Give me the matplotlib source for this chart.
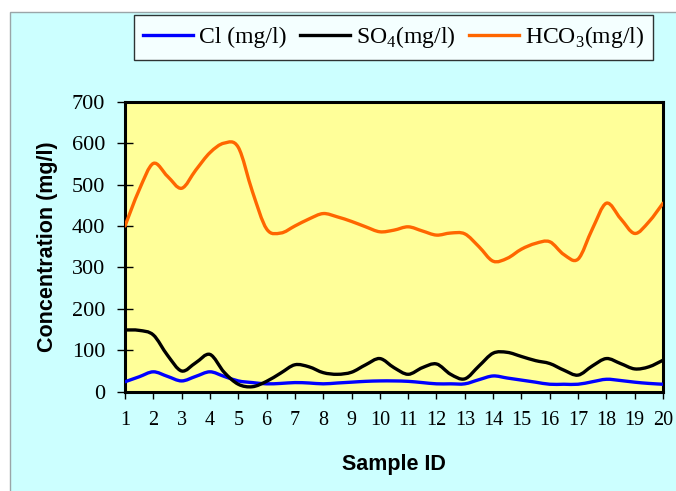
import numpy as np
import matplotlib.pyplot as plt
from matplotlib.path import Path
from matplotlib.patches import PathPatch, Rectangle
from matplotlib.lines import Line2D

plt.rcParams['mathtext.fontset'] = 'custom'
plt.rcParams['mathtext.rm'] = 'Liberation Serif'

# readings every half sample
sample_id = np.arange(1, 20.5, 0.5)
cl = [24, 36, 48, 37, 26, 37, 48, 37, 26, 22, 19, 20, 22, 21, 19, 21, 23, 25, 26, 26,
      25, 22, 19, 19, 19, 29, 38, 33, 28, 23, 18, 18, 18, 24, 30, 27, 23, 20, 18]
so4 = [149, 148, 137, 88, 50, 70, 90, 47, 18, 12, 25, 45, 65, 60, 46, 42, 47, 65, 80, 58,
       42, 58, 67, 42, 31, 62, 93, 95, 85, 75, 68, 52, 40, 62, 80, 68, 55, 60, 76]
hco3 = [400, 487, 551, 520, 491, 535, 577, 600, 590, 483, 393, 383, 400, 417, 430, 422, 411, 398, 386, 390,
        398, 388, 378, 383, 381, 350, 315, 322, 344, 358, 362, 331, 320, 392, 455, 418, 382, 410, 455]

names = ['Cl (mg/l)', r'SO$_{\mathrm{4}}$(mg/l)', r'HCO$_{\mathrm{3}}$(mg/l)']
colors = ['#0000ff', '#000000', '#ff6600']
xticks = list(range(1, 21))
yticks = list(range(0, 701, 100))


def smooth_path(x, y):
    # catmull-rom style bezier through every point, like a spreadsheet "smoothed line"
    p = np.column_stack([x, y]).astype(float)
    p = np.vstack([p[0], p, p[-1]])
    verts = [p[1]]
    codes = [Path.MOVETO]
    for i in range(1, len(p) - 2):
        c1 = p[i] + (p[i + 1] - p[i - 1]) / 6.0
        c2 = p[i + 1] - (p[i + 2] - p[i]) / 6.0
        verts += [c1, c2, p[i + 1]]
        codes += [Path.CURVE4] * 3
    return Path(verts, codes)


fig = plt.figure(figsize=(6.76, 4.91), dpi=100)
fig.patch.set_facecolor('white')
fig.add_artist(Rectangle((10 / 676, -0.01), 1.0, (491 - 12) / 491 + 0.01, transform=fig.transFigure,
                         facecolor='#ccffff', edgecolor='#9aa5a8', linewidth=1.0, zorder=0))

ax = fig.add_axes([125 / 676, 99.3 / 491, 538 / 676, 290 / 491])
ax.set_facecolor('#ffff99')

handles = []
for series, c, n in zip([cl, so4, hco3], colors, names):
    ax.add_patch(PathPatch(smooth_path(sample_id, series), facecolor='none', edgecolor=c,
                           linewidth=2.4, capstyle='round', joinstyle='round', zorder=3))
    handles.append(Line2D([], [], color=c, linewidth=2.4, label=n))

ax.set_xlim(1, 20)
ax.set_ylim(0, 700)
ax.set_xticks(xticks)
ax.set_yticks(yticks)
ax.tick_params(axis='y', direction='inout', length=11.5, width=1, pad=8.5, labelsize=16)
ax.tick_params(axis='x', direction='out', length=5, width=1, pad=9, labelsize=14.5)
for lab in ax.get_xticklabels() + ax.get_yticklabels():
    lab.set_fontfamily('Liberation Serif')
for s in ax.spines.values():
    s.set_linewidth(2.2)
    s.set_color('black')

ax.set_xlabel('Sample ID', fontsize=15.5, fontweight='bold', fontfamily='Liberation Sans', labelpad=17)
ax.set_ylabel('Concentration (mg/l)', fontsize=15.5, fontweight='bold', fontfamily='Liberation Sans', labelpad=10)

leg = fig.legend(handles=handles, loc='center', bbox_to_anchor=(393.5 / 676, 1 - 37.5 / 491), ncol=3,
                 frameon=True, fancybox=False, handlelength=2.1, handletextpad=0.25, columnspacing=0.6,
                 borderpad=0.4, borderaxespad=0, prop={'family': 'Liberation Serif', 'size': 17})
leg.get_frame().set_edgecolor('black')
leg.get_frame().set_linewidth(1.0)
leg.get_frame().set_facecolor('white')

plt.savefig('out.png', dpi=100, facecolor=fig.get_facecolor())
